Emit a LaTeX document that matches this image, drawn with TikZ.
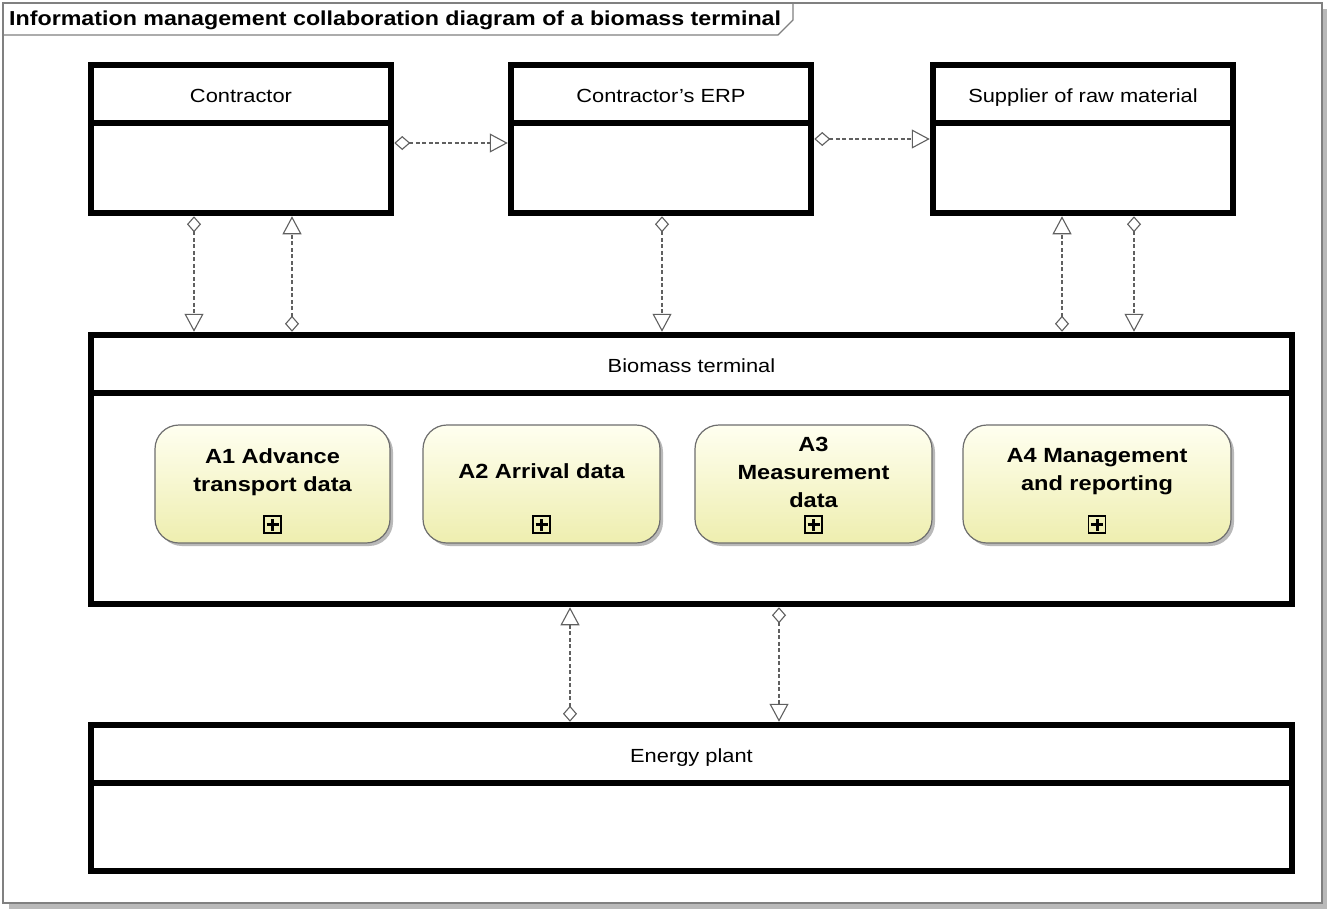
\documentclass[tikz,border=0pt]{standalone}
\usepackage{fontspec}
\setmainfont{Liberation Sans}[FakeStretch=1.15]
\usetikzlibrary{arrows.meta,shadows}

\definecolor{lnGray}{RGB}{96,96,96}
\definecolor{frameGray}{RGB}{128,128,128}
\definecolor{shadowGray}{RGB}{185,185,185}
\definecolor{actTop}{RGB}{255,255,240}
\definecolor{actBot}{RGB}{238,238,175}
\definecolor{actLine}{RGB}{110,110,110}

\begin{document}
\begin{tikzpicture}[x=1pt,y=-1pt,
  hdr/.style={draw,line width=6.5pt,inner sep=0pt,minimum width=#1,minimum height=58pt,
              text height=19pt,text depth=2.4pt,
              font=\fontsize{19}{22}\selectfont},
  bdy/.style 2 args={draw,line width=6.5pt,inner sep=0pt,minimum width=#1,minimum height=#2},
  act/.style={draw=actLine,line width=1.2pt,rounded corners=24pt,top color=actTop,bottom color=actBot,
              minimum width=#1,minimum height=118pt,inner sep=0pt,
              drop shadow={shadow xshift=3pt,shadow yshift=-3pt,fill=shadowGray,opacity=1}},
  acttext/.style={align=center,inner sep=0pt,font=\bfseries\fontsize{20.5}{28}\selectfont},
  plusbox/.style={draw=black,line width=1.6pt,minimum size=17pt,inner sep=0pt,
              path picture={\draw[line width=3pt] (path picture bounding box.center) ++(-6pt,0pt) -- ++(12pt,0pt);
                            \draw[line width=3pt] (path picture bounding box.center) ++(0pt,-6pt) -- ++(0pt,12pt);}},
  link/.style={draw=lnGray,line width=1.1pt,dash pattern=on 4pt off 2.5pt},
  dtri/.style={{Diamond[open,length=16pt,width=14pt,line width=1.1pt]}-{Triangle[open,length=18pt,width=19pt,line width=1.1pt]}}
]
\useasboundingbox (0,0) rectangle (1328,911);
\fill[white] (0,0) rectangle (1328,911);

% frame with shadow
\fill[shadowGray] (9,9) rectangle (1327,909);
\draw[frameGray,fill=white,line width=1.5pt] (3,3) rectangle (1322,903);
\draw[frameGray,line width=1.3pt] (3,35) -- (778,35) -- (793,20) -- (793,3);
\node[anchor=west,inner sep=0pt,font=\bfseries\fontsize{20.2}{24}\selectfont] (title) at (9,20.5)
  {Information management collaboration diagram of a biomass terminal};

% classes
\node[hdr=300pt] (cH) at (241,94) {Contractor};
\node[bdy={300pt}{90pt}] (cB) at (241,168) {};
\node[hdr=300pt] (eH) at (661,94) {Contractor's ERP};
\node[bdy={300pt}{90pt}] (eB) at (661,168) {};
\node[hdr=300pt] (sH) at (1083,94) {Supplier of raw material};
\node[bdy={300pt}{90pt}] (sB) at (1083,168) {};

\node[hdr=1201pt] (tH) at (691.5,364) {Biomass terminal};
\node[bdy={1201pt}{211pt}] (tB) at (691.5,498.5) {};

\node[hdr=1201pt] (pH) at (691.5,754) {Energy plant};
\node[bdy={1201pt}{88pt}] (pB) at (691.5,827) {};

% activities
\node[act=235pt] (a1) at (272.5,484) {};
\node[act=237pt] (a2) at (541.5,484) {};
\node[act=237pt] (a3) at (813.5,484) {};
\node[act=268pt] (a4) at (1097,484) {};

\node[acttext] (a1t) at ([yshift=12pt]a1.center) {A1 Advance\\transport data};
\node[acttext] (a2t) at ([yshift=13pt]a2.center) {A2 Arrival data};
\node[acttext] (a3t) at ([yshift=12pt]a3.center) {A3\\Measurement\\data};
\node[acttext] (a4t) at ([yshift=12pt]a4.center) {A4 Management\\and reporting};

\node[plusbox] (a1p) at ([yshift=19pt]a1.south) {};
\node[plusbox] (a2p) at ([yshift=19pt]a2.south) {};
\node[plusbox] (a3p) at ([yshift=19pt]a3.south) {};
\node[plusbox] (a4p) at ([yshift=19pt]a4.south) {};

% connector positions
\coordinate (y143) at (0,143);
\coordinate (y139) at (0,139);
\coordinate (x194) at (194,0);
\coordinate (x292) at (292,0);
\coordinate (x662) at (662,0);
\coordinate (x1062) at (1062,0);
\coordinate (x1134) at (1134,0);
\coordinate (x570) at (570,0);
\coordinate (x779) at (779,0);

% connectors
\draw[link,dtri] (cB.east |- y143) -- (eB.west |- y143);
\draw[link,dtri] (eB.east |- y139) -- (sB.west |- y139);
\draw[link,dtri] (cB.south -| x194) -- (tH.north -| x194);
\draw[link,dtri] (tH.north -| x292) -- (cB.south -| x292);
\draw[link,dtri] (eB.south -| x662) -- (tH.north -| x662);
\draw[link,dtri] (tH.north -| x1062) -- (sB.south -| x1062);
\draw[link,dtri] (sB.south -| x1134) -- (tH.north -| x1134);
\draw[link,dtri] (pH.north -| x570) -- (tB.south -| x570);
\draw[link,dtri] (tB.south -| x779) -- (pH.north -| x779);
\end{tikzpicture}
\end{document}
